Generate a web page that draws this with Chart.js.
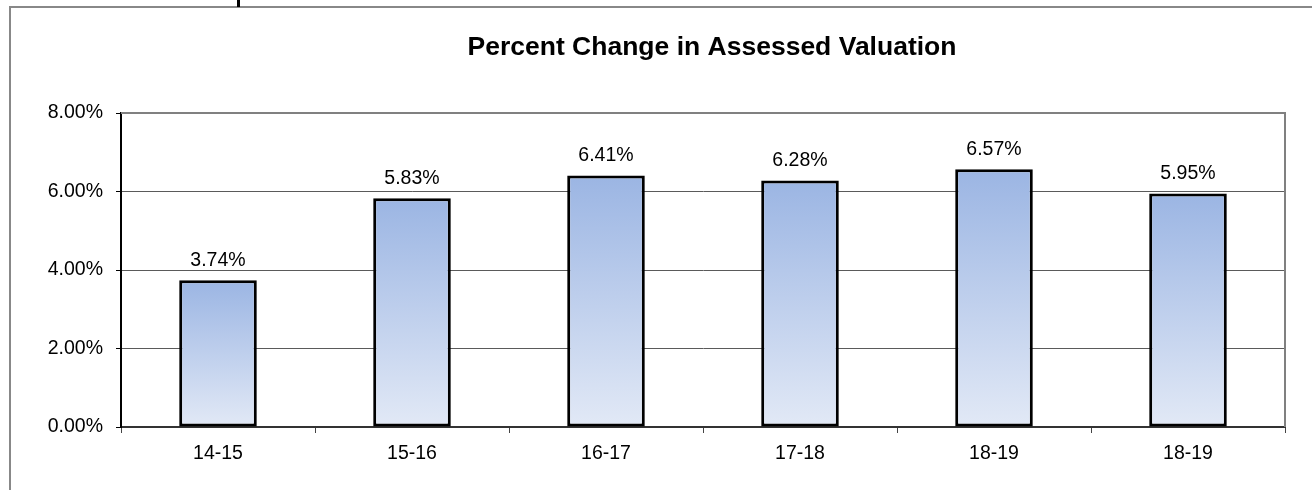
<!DOCTYPE html>
<html>
<head>
<meta charset="utf-8">
<script src="https://cdn.jsdelivr.net/npm/chart.js@4/dist/chart.umd.min.js"></script>
<style>
    html, body { margin: 0; padding: 0; background: #fff; }
    #wrap { position: relative; width: 1312px; height: 490px; }
</style>
</head>
<body>
<div id="wrap"><canvas id="valuationChart" width="1312" height="490"></canvas></div>
<script>
// Werte
const categories = ['14-15', '15-16', '16-17', '17-18', '18-19', '18-19'];
const changeValues = [3.74, 5.83, 6.41, 6.28, 6.57, 5.95];
const yTickValues = [0, 2, 4, 6, 8];
const chartTitle = 'Percent Change in Assessed Valuation';

const FONT = '"Liberation Sans", Arial, sans-serif';

// Rahmen, Titel, Plotrahmen und Wertbeschriftungen
const decorations = {
    id: 'decorations',
    beforeDraw(chart) {
        const ctx = chart.ctx;
        ctx.save();
        ctx.fillStyle = '#fff';
        ctx.fillRect(0, 0, chart.width, chart.height);
        // äusserer Rahmen
        ctx.strokeStyle = '#888';
        ctx.lineWidth = 2;
        ctx.beginPath();
        ctx.moveTo(10, chart.height + 5);
        ctx.lineTo(10, 7);
        ctx.lineTo(chart.width + 5, 7);
        ctx.stroke();
        // kleiner schwarzer Strich oben
        ctx.fillStyle = '#000';
        ctx.fillRect(237, 0, 3, 7);
        // Titel
        ctx.fillStyle = '#000';
        ctx.font = 'bold 26.5px ' + FONT;
        ctx.textAlign = 'center';
        ctx.textBaseline = 'alphabetic';
        ctx.fillText(chartTitle, 712, 55);
        ctx.restore();
    },
    afterDatasetsDraw(chart) {
        const ctx = chart.ctx;
        const area = chart.chartArea;
        ctx.save();
        ctx.strokeStyle = '#808080';
        ctx.lineWidth = 2;
        ctx.beginPath();
        ctx.moveTo(area.left, area.top);
        ctx.lineTo(area.right, area.top);
        ctx.lineTo(area.right, area.bottom);
        ctx.stroke();

        ctx.fillStyle = '#000';
        ctx.font = '19.5px ' + FONT;
        ctx.textAlign = 'center';
        ctx.textBaseline = 'alphabetic';
        chart.getDatasetMeta(0).data.forEach((bar, i) => {
            ctx.fillText(changeValues[i].toFixed(2) + '%', bar.x, bar.y - 14.5);
        });
        ctx.restore();
    }
};

function barGradient(context) {
    const chart = context.chart;
    const y = chart.scales.y;
    if (!chart.chartArea || !y) return '#9db6e3';
    const top = y.getPixelForValue(context.raw);
    const bottom = y.getPixelForValue(0);
    const g = chart.ctx.createLinearGradient(0, top, 0, bottom);
    g.addColorStop(0, '#9bb5e3');
    g.addColorStop(1, '#e2e9f6');
    return g;
}

const ctx = document.getElementById('valuationChart').getContext('2d');
new Chart(ctx, {
    type: 'bar',
    data: {
        labels: categories,
        datasets: [{
            data: changeValues,
            backgroundColor: barGradient,
            borderColor: '#000',
            borderWidth: 3,
            borderSkipped: false,
            barPercentage: 0.4,
            categoryPercentage: 1.0
        }]
    },
    options: {
        responsive: false,
        animation: false,
        devicePixelRatio: 1,
        layout: { padding: { top: 113, right: 27, bottom: 0, left: 0 } },
        plugins: {
            legend: { display: false },
            title: { display: false },
            tooltip: { enabled: false }
        },
        scales: {
            x: {
                offset: true,
                grid: {
                    offset: true,
                    drawOnChartArea: false,
                    drawTicks: true,
                    tickLength: 6,
                    color: '#444',
                    lineWidth: 1
                },
                border: { color: '#333', width: 2 },
                ticks: {
                    color: '#000',
                    padding: 9,
                    maxRotation: 0,
                    font: { family: FONT, size: 19.5 }
                },
                afterFit(scale) { scale.height = 63; }
            },
            y: {
                min: 0,
                max: 8,
                afterBuildTicks(scale) {
                    scale.ticks = yTickValues.map(v => ({ value: v }));
                },
                grid: {
                    color: '#5a5a5a',
                    lineWidth: 1,
                    tickColor: '#000',
                    tickLength: 5
                },
                border: { color: '#000', width: 2 },
                ticks: {
                    color: '#000',
                    padding: 13,
                    font: { family: FONT, size: 19.5 },
                    callback: v => v.toFixed(2) + '%'
                },
                afterFit(scale) { scale.width = 121; }
            }
        }
    },
    plugins: [decorations]
});
</script>
</body>
</html>
